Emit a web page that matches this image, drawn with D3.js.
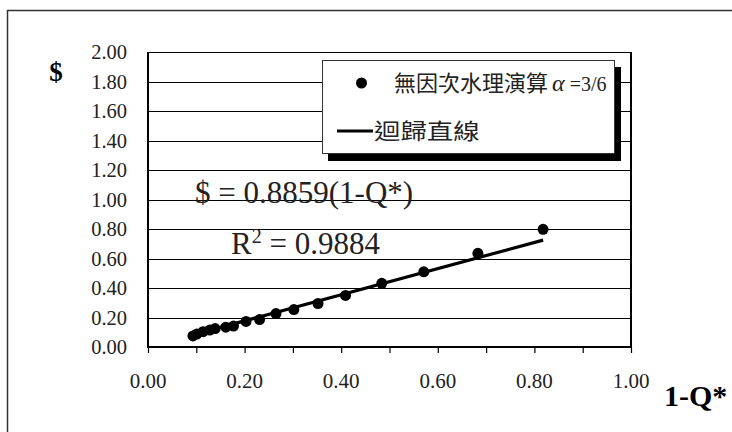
<!DOCTYPE html>
<html>
<head>
<meta charset="utf-8">
<script src="https://cdn.jsdelivr.net/npm/d3@7"></script>
<style>
  html, body { margin: 0; padding: 0; background: #fff; }
  svg { display: block; }
</style>
</head>
<body>
<svg id="chart" width="732" height="432"></svg>
<script>
/* 1-Q* vs $ scatter with fitted regression line through origin. */
const xVals = [0.093, 0.101, 0.114, 0.128, 0.139, 0.161, 0.177, 0.203, 0.231, 0.265, 0.302, 0.352, 0.409, 0.484, 0.571, 0.683, 0.818];
const yVals = [0.075, 0.088, 0.104, 0.115, 0.125, 0.134, 0.142, 0.173, 0.186, 0.227, 0.254, 0.295, 0.350, 0.432, 0.510, 0.635, 0.798];
const slope = 0.8859;
const xTicks = [0, 0.2, 0.4, 0.6, 0.8, 1.0];
const xMinorTicks = [0, 0.1, 0.2, 0.3, 0.4, 0.5, 0.6, 0.7, 0.8, 0.9, 1.0];
const yTicks = [0, 0.2, 0.4, 0.6, 0.8, 1.0, 1.2, 1.4, 1.6, 1.8, 2.0];
const legendLabels = ["無因次水理演算", "迴歸直線"];

(function () {
    const svg = d3.select("#chart");
    const SERIF = "'Liberation Serif', 'Times New Roman', serif";
    const CJK = "'Noto Sans CJK TC', 'Noto Sans CJK SC', sans-serif";

    const margin = { left: 148, top: 52, right: 631, bottom: 347 };
    const x = d3.scaleLinear().domain([0, 1]).range([margin.left, margin.right]);
    const y = d3.scaleLinear().domain([0, 2]).range([margin.bottom, margin.top]);

    // outer frame (runs off the page at right and bottom)
    svg.append("rect").attr("x", 7.5).attr("y", 10.5).attr("width", 740).attr("height", 440)
        .attr("fill", "none").attr("stroke", "#333").attr("stroke-width", 1.5);

    // horizontal gridlines
    svg.append("g").selectAll("line")
        .data(yTicks.filter(d => d > 0 && d < 2))
        .join("line")
        .attr("x1", x(0)).attr("x2", x(1))
        .attr("y1", d => Math.round(y(d)) + 0.5).attr("y2", d => Math.round(y(d)) + 0.5)
        .attr("stroke", "#000").attr("stroke-width", 1);

    // plot border
    svg.append("line").attr("x1", x(0)).attr("x2", x(1)).attr("y1", y(2) + 0.5).attr("y2", y(2) + 0.5)
        .attr("stroke", "#000").attr("stroke-width", 1);
    svg.append("line").attr("x1", x(1)).attr("x2", x(1)).attr("y1", y(2)).attr("y2", y(0))
        .attr("stroke", "#000").attr("stroke-width", 2);

    // y axis labels
    svg.append("g").selectAll("text")
        .data(yTicks)
        .join("text")
        .attr("x", 127).attr("y", d => y(d)).attr("dy", "0.36em")
        .attr("text-anchor", "end")
        .attr("font-family", SERIF).attr("font-size", 20.5).attr("fill", "#222")
        .text(d => d3.format(".2f")(d));
    svg.append("line").attr("x1", x(0)).attr("x2", x(0)).attr("y1", y(2)).attr("y2", y(0) + 1)
        .attr("stroke", "#000").attr("stroke-width", 2);

    // x axis
    const xAxis = svg.append("g").attr("transform", `translate(0, ${y(0)})`)
        .call(d3.axisBottom(x).tickValues(xMinorTicks).tickSize(6).tickFormat(""));
    xAxis.select(".domain").attr("stroke-width", 2).attr("d", `M${x(0)},0H${x(1) + 1}`);
    xAxis.selectAll(".tick line").attr("stroke", "#000").attr("stroke-width", 1.2);

    svg.append("g").selectAll("text")
        .data(xTicks)
        .join("text")
        .attr("x", d => x(d)).attr("y", 388)
        .attr("text-anchor", "middle")
        .attr("font-family", SERIF).attr("font-size", 21).attr("fill", "#222")
        .text(d => d3.format(".2f")(d));

    // axis titles
    svg.append("text").attr("x", 56).attr("y", 81).attr("text-anchor", "middle")
        .attr("font-family", SERIF).attr("font-weight", "bold").attr("font-size", 27)
        .text("$");
    svg.append("text").attr("x", 664).attr("y", 406)
        .attr("font-family", SERIF).attr("font-weight", "bold").attr("font-size", 30)
        .text("1-Q*");

    // regression line
    const [x0, x1] = d3.extent(xVals);
    svg.append("line")
        .attr("x1", x(x0)).attr("y1", y(slope * x0))
        .attr("x2", x(x1)).attr("y2", y(slope * x1))
        .attr("stroke", "#000").attr("stroke-width", 3.2);

    // data points
    svg.append("g").selectAll("circle")
        .data(xVals.map((v, i) => [v, yVals[i]]))
        .join("circle")
        .attr("cx", d => x(d[0])).attr("cy", d => y(d[1]))
        .attr("r", 5.5).attr("fill", "#000");

    // equation annotations
    svg.append("text").attr("x", 195).attr("y", 203)
        .attr("font-family", SERIF).attr("font-size", 31).attr("fill", "#222")
        .text("$ = 0.8859(1-Q*)");
    const r2 = svg.append("text").attr("x", 231).attr("y", 254)
        .attr("font-family", SERIF).attr("font-size", 31).attr("fill", "#222");
    r2.append("tspan").text("R");
    r2.append("tspan").attr("dy", -11).attr("font-size", 20).text("2");
    r2.append("tspan").attr("dy", 11).text(" = 0.9884");

    // legend with drop shadow
    const lg = svg.append("g");
    lg.append("rect").attr("x", 328).attr("y", 67).attr("width", 293).attr("height", 94).attr("fill", "#000");
    lg.append("rect").attr("x", 322.5).attr("y", 60.5).attr("width", 292).attr("height", 93)
        .attr("fill", "#fff").attr("stroke", "#333").attr("stroke-width", 1);
    lg.append("circle").attr("cx", 361.5).attr("cy", 83).attr("r", 5.5).attr("fill", "#000");
    const t1 = lg.append("text").attr("x", 394).attr("y", 91)
        .attr("font-family", CJK).attr("font-size", 22).attr("fill", "#222");
    t1.append("tspan").text(legendLabels[0]);
    t1.append("tspan").attr("font-family", SERIF).attr("font-style", "italic").attr("font-size", 24)
        .attr("dx", 4).text("α");
    t1.append("tspan").attr("font-family", SERIF).attr("font-size", 20).text(" =3/6");
    lg.append("line").attr("x1", 337).attr("x2", 373).attr("y1", 131).attr("y2", 131)
        .attr("stroke", "#000").attr("stroke-width", 3);
    lg.append("text").attr("transform", "translate(374,139) scale(1.2,1)")
        .attr("font-family", CJK).attr("font-size", 22).attr("fill", "#222")
        .text(legendLabels[1]);
})();
</script>
</body>
</html>
